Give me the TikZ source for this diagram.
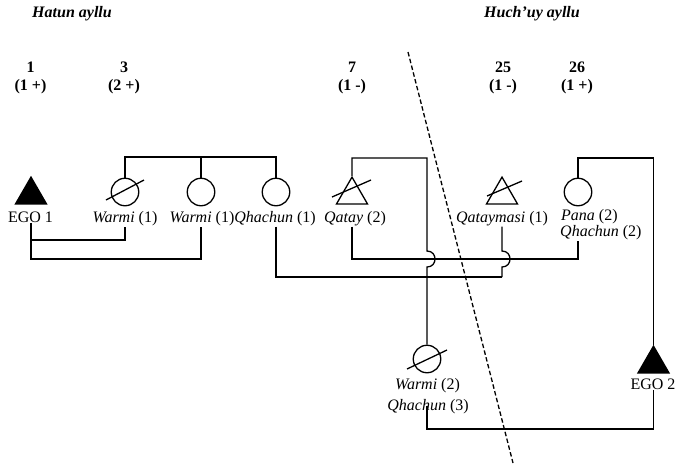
\documentclass[tikz,border=0pt]{standalone}
\usepackage{fontspec}
\setmainfont{Liberation Serif}
\usetikzlibrary{shapes.geometric,calc}
\begin{document}
\begin{tikzpicture}[x=1pt,y=-1pt,
  conn/.style={line width=1.3pt},
  fem/.style={circle,draw,line width=1.3pt,minimum size=27.5pt,inner sep=0pt},
  male/.style={regular polygon,regular polygon sides=3,draw,line width=1.3pt,minimum size=35.8pt,inner sep=0pt},
  ego/.style={male,fill=black},
  lbl/.style={anchor=base,inner sep=1pt,font=\fontsize{16}{18}\selectfont},
  hdr/.style={anchor=base,inner sep=0pt,font=\fontsize{16}{18}\selectfont\bfseries},
  divider/.style={line width=1.3pt,dash pattern=on 4.5pt off 2.5pt}]
\useasboundingbox (0,0) rectangle (676,467);
% headers
\node[hdr] (hatun) at (72,17) {\itshape Hatun ayllu};
\node[hdr] (huchuy) at (532,17) {\itshape Huch’uy ayllu};
\node[hdr] (h1) at (30.5,72) {1};
\node[hdr] (h1b) at (30.5,90) {(1 +)};
\node[hdr] (h3) at (124,72) {3};
\node[hdr] (h3b) at (124,90) {(2 +)};
\node[hdr] (h7) at (352,72) {7};
\node[hdr] (h7b) at (352,90) {(1 -)};
\node[hdr] (h25) at (503,72) {25};
\node[hdr] (h25b) at (503,90) {(1 -)};
\node[hdr] (h26) at (577,72) {26};
\node[hdr] (h26b) at (577,90) {(1 +)};
% divider
\coordinate (d1) at (408,52);
\coordinate (d2) at (513,463);
\draw[divider] (d1) -- (d2);
% persons
\node[ego] (ego1) at (31,195) {};
\node[fem] (w1) at (125,192) {};
\node[fem] (w2) at (201,192) {};
\node[fem] (q1) at (276,192) {};
\node[male] (qt) at (352,195) {};
\node[male] (qm) at (502,195) {};
\node[fem] (pn) at (578,192) {};
\node[fem] (wm2) at (427,359) {};
\node[ego] (ego2) at (653.5,364) {};
% slashes (deceased)
\draw[conn] ($(w1)+(-19,8)$) -- ($(w1)+(19,-12)$);
\draw[conn] ($(qt)+(-20,2)$) -- ($(qt)+(19,-15)$);
\draw[conn] ($(qm)+(-15,1)$) -- ($(qm)+(20,-14)$);
\draw[conn] ($(wm2)+(-20,10)$) -- ($(wm2)+(20,-9)$);
% labels
\node[lbl] (ego1l) at (30.5,222) {EGO 1};
\node[lbl] (w1l) at (125,222) {\textit{Warmi} (1)};
\node[lbl] (w2l) at (202,222) {\textit{Warmi} (1)};
\node[lbl] (q1l) at (275,222) {\textit{Qhachun} (1)};
\node[lbl] (qtl) at (355,222) {\textit{Qatay} (2)};
\node[lbl] (qml) at (502,222) {\textit{Qataymasi} (1)};
\node[lbl,anchor=base west] (pnl) at (560,220) {\textit{Pana} (2)};
\node[lbl,anchor=base west] (pnl2) at (559,236) {\textit{Qhachun} (2)};
\node[lbl] (wm2l) at (427.5,389) {\textit{Warmi} (2)};
\node[lbl] (wm2l2) at (428,410) {\textit{Qhachun} (3)};
\node[lbl] (ego2l) at (653,389) {EGO 2};
% connectors
\coordinate (bar) at (201,157);
\draw[conn] (w1.north) |- (bar) -| (q1.north);
\draw[conn] (w2.north) -- (bar);
\coordinate (m1) at (31,240);
\coordinate (m2) at (31,259);
\draw[conn] (ego1 |- ego1l.south) -- (m2) -| (w2 |- w2l.south);
\draw[conn] (m1) -| (w1 |- w1l.south);
\coordinate (m3) at (502,277);
\draw[conn] (q1 |- q1l.south) |- (m3);
\coordinate (hop2a) at (502,251);
\coordinate (hop2b) at (502,267);
\draw[conn] (qm |- qml.south) -- (hop2a) .. controls +(10.7,0) and +(10.7,0) .. (hop2b) -- (m3);
\coordinate (tq) at (427,158);
\coordinate (hop1a) at (427,251);
\coordinate (hop1b) at (427,267);
\draw[conn] (qt.north) |- (tq) -- (hop1a) .. controls +(10.7,0) and +(10.7,0) .. (hop1b) -- (wm2.north);
\coordinate (m4) at (578,259);
\draw[conn] (qt |- qtl.south) |- (m4) -- (pn |- pnl2.south);
\coordinate (tp) at (653.5,158);
\draw[conn] (pn.north) |- (tp) -- (ego2.north);
\coordinate (m5) at (653.5,429);
\draw[conn] (ego2 |- ego2l.south) -- (m5) -| (wm2 |- wm2l2.center);
\end{tikzpicture}
\end{document}
